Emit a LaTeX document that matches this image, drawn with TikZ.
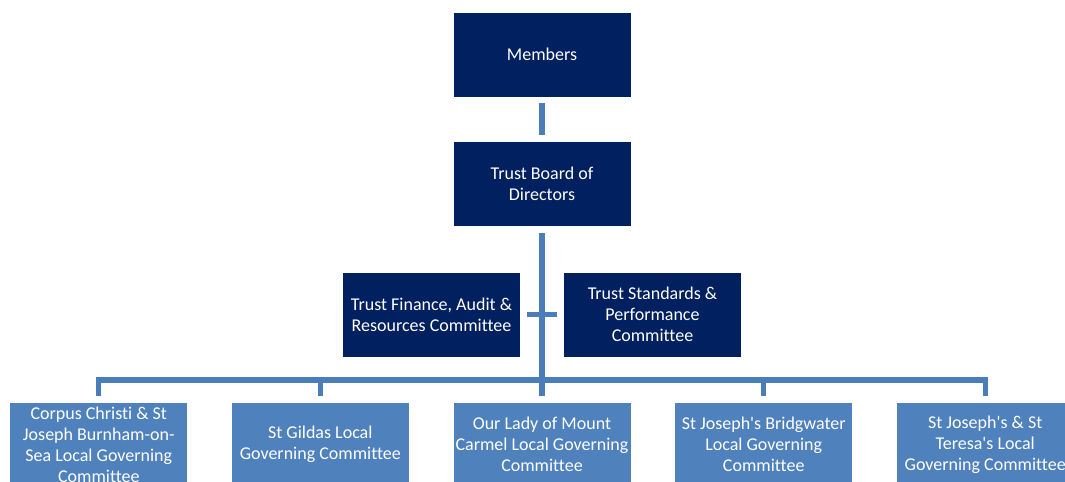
\documentclass[tikz,border=0pt]{standalone}
\usepackage{fontspec}
\newfontfamily\calibri{Carlito}[Ligatures=NoCommon]
\usetikzlibrary{positioning}

\definecolor{navy}{HTML}{002060}
\definecolor{accent}{HTML}{4F81BD}
\definecolor{linkblue}{HTML}{4A7EBB}

\tikzset{
  board/.style={rectangle,fill=navy,draw=white,line width=0.6pt,text=white,align=center,
    minimum width=133.5pt,minimum height=63.75pt,inner sep=0pt,
    font=\calibri\fontsize{13.5}{15.75}\selectfont},
  lgc/.style={board,fill=accent},
  link/.style={draw=linkblue,line width=4pt}
}

\begin{document}
\begin{tikzpicture}[x=0.75pt,y=-0.75pt]
	\useasboundingbox (0,0) rectangle (1065,482);
	\clip (0,0) rectangle (1065,482);
	\node[board] (members) at (542,54.5) {Members};
	\node[board,below=33pt of members] (trust) {Trust Board of\\Directors};
	\node[board] (finance) at (431.5,314.5) {Trust Finance, Audit \&\\Resources Committee};
	\node[board] (standards) at (652.5,314.5) {Trust Standards \&\\Performance\\Committee};
	\node[lgc] (lgc1) at (98.8,444.5) {Corpus Christi \& St\\Joseph Burnham-on-\\Sea Local Governing\\Committee};
	\node[lgc] (lgc2) at (320.3,444.5) {St Gildas Local\\Governing Committee};
	\node[lgc] (lgc3) at (542,444.5) {Our Lady of Mount\\Carmel Local Governing\\Committee};
	\node[lgc] (lgc4) at (763.7,444.5) {St Joseph's Bridgwater\\Local Governing\\Committee};
	\node[lgc] (lgc5) at (985.2,444.5) {St Joseph's \& St\\Teresa's Local\\Governing Committee};
	\coordinate (bus) at (542,380);
	\draw[link,shorten <=4.5pt,shorten >=4.5pt] (members) -- (trust);
	\draw[link,shorten <=4.5pt] (trust.south) -- (bus);
	\draw[link,shorten <=4.5pt,shorten >=4.5pt] (finance) -- (standards);
	\foreach \i in {1,...,5}
		\draw[link,shorten >=4pt] (bus) -| (lgc\i.north);
\end{tikzpicture}
\end{document}
